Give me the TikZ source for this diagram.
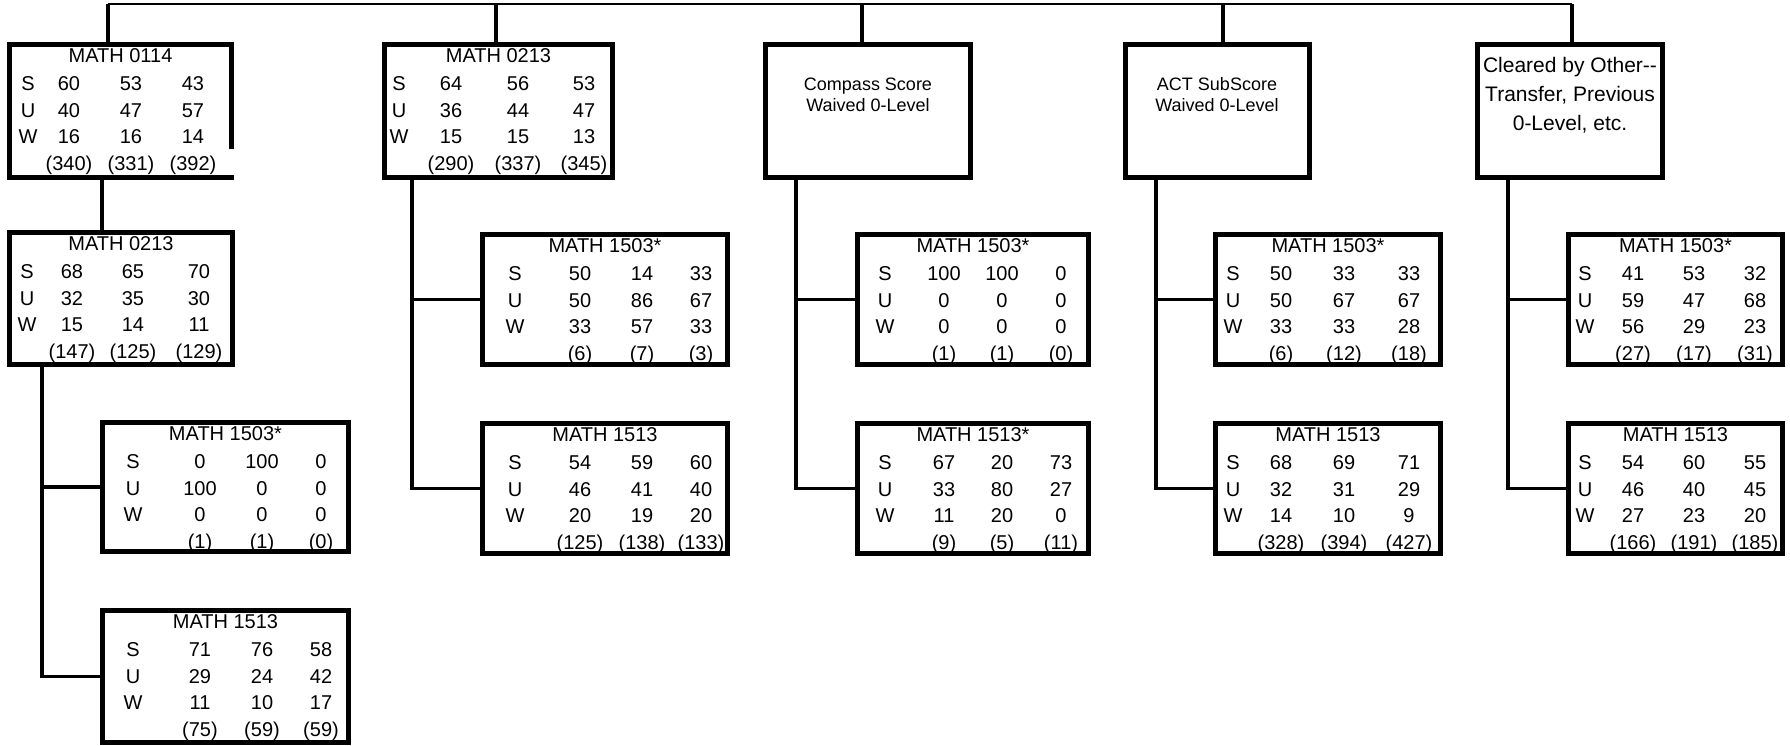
\documentclass[tikz,border=0pt]{standalone}
\usepackage{fontspec}
\setmainfont{Liberation Sans}
\usetikzlibrary{calc}
\tikzset{
  boxst/.style={draw, line width=5pt, rectangle, inner sep=0pt},
  conn/.style={line width=3.5pt},
  busline/.style={line width=2.6pt, line cap=square},
  txt/.style={inner sep=0pt, text height=14.3pt, text depth=0pt, font=\fontsize{20}{24}\selectfont},
  txtb/.style={inner sep=0pt, text height=12.9pt, text depth=0pt, font=\fontsize{18}{21}\selectfont},
  txtc/.style={inner sep=0pt, text height=15pt, text depth=0pt, font=\fontsize{21}{25}\selectfont},
}
\newcommand\bx[5]{%
  \pgfmathsetmacro\bxw{#4-#2-5}%
  \pgfmathsetmacro\bxh{#5-#3-5}%
  \pgfmathsetmacro\bxcx{(#2+#4)/2}%
  \pgfmathsetmacro\bxcy{(#3+#5)/2}%
  \node[boxst, minimum width=\bxw pt, minimum height=\bxh pt] (#1) at (\bxcx,\bxcy) {};}
\newcommand\cols[4]{\def\cS{#1}\def\cA{#2}\def\cB{#3}\def\cC{#4}}
\newcommand\rows[4]{% name, outer top, title, list
  \node[txt] (#1t) at ($(#1.north)+(0,13.5)$) {#3};
  \foreach \la/\va/\vb/\vc [count=\i] in {#4}{
    \pgfmathsetmacro\yy{#2+15+26.5*\i}
    \node[txt] (#1r\i l) at (\cS,\yy) {\la};
    \node[txt] (#1r\i a) at (\cA,\yy) {\va};
    \node[txt] (#1r\i b) at (\cB,\yy) {\vb};
    \node[txt] (#1r\i c) at (\cC,\yy) {\vc};
  }}
\begin{document}
\begin{tikzpicture}[x=1pt,y=-1pt]
\useasboundingbox (0,0) rectangle (1790,746);
% ---- top row
\bx{b1}{7}{42}{234}{180}
\bx{b2}{382}{42}{615}{180}
\bx{cp}{763}{42}{973}{180}
\bx{ac}{1123}{42}{1312}{180}
\bx{cl}{1475}{42}{1665}{180}
% ---- children
\bx{r2}{7}{230}{235}{367}
\bx{l3}{100}{420}{351}{554}
\bx{l4}{100}{608}{351}{745}
\bx{m3}{480}{232}{730}{367}
\bx{m4}{480}{421}{730}{556}
\bx{c3}{855}{232}{1091}{367}
\bx{c4}{855}{421}{1091}{556}
\bx{a3}{1213}{232}{1443}{367}
\bx{a4}{1213}{421}{1443}{556}
\bx{o3}{1566}{232}{1785}{367}
\bx{o4}{1566}{421}{1785}{556}
% ---- table texts
\cols{28}{69}{131}{193}
\rows{b1}{42}{MATH 0114}{S/60/53/43, U/40/47/57, W/16/16/14, /(340)/(331)/(392)}
\fill[white] (226.5,149) rectangle (236,175);
\cols{399}{451}{518}{584}
\rows{b2}{42}{MATH 0213}{S/64/56/53, U/36/44/47, W/15/15/13, /(290)/(337)/(345)}
\cols{27}{72}{133}{199}
\rows{r2}{230}{MATH 0213}{S/68/65/70, U/32/35/30, W/15/14/11, /(147)/(125)/(129)}
\cols{133}{200}{262}{321}
\rows{l3}{420}{MATH 1503*}{S/0/100/0, U/100/0/0, W/0/0/0, /(1)/(1)/(0)}
\rows{l4}{608}{MATH 1513}{S/71/76/58, U/29/24/42, W/11/10/17, /(75)/(59)/(59)}
\cols{515}{580}{642}{701}
\rows{m3}{232}{MATH 1503*}{S/50/14/33, U/50/86/67, W/33/57/33, /(6)/(7)/(3)}
\rows{m4}{421}{MATH 1513}{S/54/59/60, U/46/41/40, W/20/19/20, /(125)/(138)/(133)}
\cols{885}{944}{1002}{1061}
\rows{c3}{232}{MATH 1503*}{S/100/100/0, U/0/0/0, W/0/0/0, /(1)/(1)/(0)}
\rows{c4}{421}{MATH 1513*}{S/67/20/73, U/33/80/27, W/11/20/0, /(9)/(5)/(11)}
\cols{1233}{1281}{1344}{1409}
\rows{a3}{232}{MATH 1503*}{S/50/33/33, U/50/67/67, W/33/33/28, /(6)/(12)/(18)}
\rows{a4}{421}{MATH 1513}{S/68/69/71, U/32/31/29, W/14/10/9, /(328)/(394)/(427)}
\cols{1585}{1633}{1694}{1755}
\rows{o3}{232}{MATH 1503*}{S/41/53/32, U/59/47/68, W/56/29/23, /(27)/(17)/(31)}
\rows{o4}{421}{MATH 1513}{S/54/60/55, U/46/40/45, W/27/23/20, /(166)/(191)/(185)}
% ---- label boxes
\node[txtb] (cpt1) at (868,84) {Compass Score};
\node[txtb] (cpt2) at (868,105) {Waived 0-Level};
\node[txtb] (act1) at (1217,84) {ACT SubScore};
\node[txtb] (act2) at (1217,105) {Waived 0-Level};
\node[txtc] (clt1) at (1570,65) {Cleared by Other-{}-};
\node[txtc] (clt2) at (1570,94) {Transfer, Previous};
\node[txtc] (clt3) at (1570,123) {0-Level, etc.};
% ---- top bus
\coordinate (busL) at (108,4);
\coordinate (busR) at (1572,4);
\draw[busline] (busL) -- (busR);
\coordinate (b1u) at ([xshift=-12.5]b1.north);
\coordinate (b2u) at ([xshift=-2.5]b2.north);
\coordinate (cpu) at ([xshift=-6]cp.north);
\coordinate (acu) at ([xshift=5.5]ac.north);
\coordinate (clu) at ([xshift=2]cl.north);
\foreach \u in {b1u,b2u,cpu,acu,clu}{\draw[conn] (\u) -- (\u |- busL);}
% ---- child connectors
\coordinate (b1d) at ([xshift=-18.5]b1.south);
\draw[conn] (b1d) -- (b1d |- r2.north);
\coordinate (r2d) at ([xshift=-79]r2.south);
\draw[conn] (r2d) |- (l3.west);
\draw[conn] (r2d) |- (l4.west);
\coordinate (b2d) at ([xshift=-86.5]b2.south);
\draw[conn] (b2d) |- (m3.west);
\draw[conn] (b2d) |- (m4.west);
\coordinate (cpd) at ([xshift=-72]cp.south);
\draw[conn] (cpd) |- (c3.west);
\draw[conn] (cpd) |- (c4.west);
\coordinate (acd) at ([xshift=-61.5]ac.south);
\draw[conn] (acd) |- (a3.west);
\draw[conn] (acd) |- (a4.west);
\coordinate (cld) at ([xshift=-62]cl.south);
\draw[conn] (cld) |- (o3.west);
\draw[conn] (cld) |- (o4.west);
\end{tikzpicture}
\end{document}
